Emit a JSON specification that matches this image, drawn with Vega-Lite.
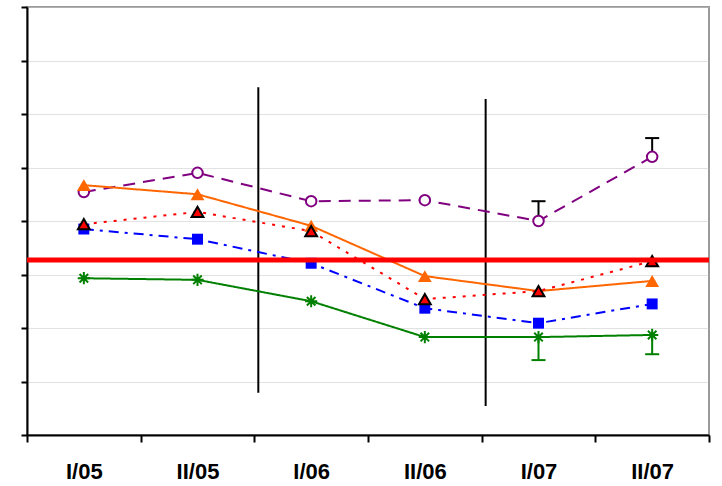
{
  "$schema": "https://vega.github.io/schema/vega-lite/v6.json",
  "width": 682,
  "height": 428,
  "autosize": {"type": "none"},
  "padding": {"left": 27, "top": 7, "right": 13, "bottom": 51},
  "background": "white",
  "config": {
    "view": {"stroke": "#9a9a9a", "strokeWidth": 2},
    "font": "Liberation Sans"
  },
  "datasets": {
    "pts": [
      {"period": "I/05", "series": "purple", "value": 4.54},
      {"period": "II/05", "series": "purple", "value": 4.9},
      {"period": "I/06", "series": "purple", "value": 4.37},
      {"period": "II/06", "series": "purple", "value": 4.39},
      {"period": "I/07", "series": "purple", "value": 4.0},
      {"period": "II/07", "series": "purple", "value": 5.2},
      {"period": "I/05", "series": "orange", "value": 4.67},
      {"period": "II/05", "series": "orange", "value": 4.5},
      {"period": "I/06", "series": "orange", "value": 3.91},
      {"period": "II/06", "series": "orange", "value": 2.97},
      {"period": "I/07", "series": "orange", "value": 2.69},
      {"period": "II/07", "series": "orange", "value": 2.88},
      {"period": "I/05", "series": "red", "value": 3.94},
      {"period": "II/05", "series": "red", "value": 4.17},
      {"period": "I/06", "series": "red", "value": 3.81},
      {"period": "II/06", "series": "red", "value": 2.54},
      {"period": "I/07", "series": "red", "value": 2.69},
      {"period": "II/07", "series": "red", "value": 3.25},
      {"period": "I/05", "series": "blue", "value": 3.85},
      {"period": "II/05", "series": "blue", "value": 3.66},
      {"period": "I/06", "series": "blue", "value": 3.21},
      {"period": "II/06", "series": "blue", "value": 2.37},
      {"period": "I/07", "series": "blue", "value": 2.09},
      {"period": "II/07", "series": "blue", "value": 2.45},
      {"period": "I/05", "series": "green", "value": 2.93},
      {"period": "II/05", "series": "green", "value": 2.9},
      {"period": "I/06", "series": "green", "value": 2.5},
      {"period": "II/06", "series": "green", "value": 1.83},
      {"period": "I/07", "series": "green", "value": 1.83},
      {"period": "II/07", "series": "green", "value": 1.87}
    ],
    "err": [
      {"period": "I/07", "series": "purple", "value": 4.0, "end": 4.37},
      {"period": "II/07", "series": "purple", "value": 5.2, "end": 5.55},
      {"period": "I/07", "series": "green", "value": 1.83, "end": 1.4},
      {"period": "II/07", "series": "green", "value": 1.87, "end": 1.51}
    ],
    "vlines": [
      {"period": "I/06", "y1": 6.5, "y2": 0.79},
      {"period": "I/07", "y1": 6.28, "y2": 0.54}
    ],
    "ref": [{"value": 3.27}]
  },
  "layer": [
    {
      "data": {"name": "vlines"},
      "mark": {"type": "rule", "color": "black", "strokeWidth": 2},
      "encoding": {
        "x": {"field": "period", "type": "ordinal", "bandPosition": 0.035,
              "scale": {"type": "band", "domain": ["I/05", "II/05", "I/06", "II/06", "I/07", "II/07"], "paddingInner": 0, "paddingOuter": 0},
              "axis": {"title": null, "labelFont": "Liberation Sans", "labelFontSize": 22, "labelFontWeight": "bold", "labelColor": "black", "labelPadding": 19, "domainColor": "black", "domainWidth": 2, "tickColor": "black", "tickWidth": 2, "tickSize": 7, "tickBand": "extent", "grid": false, "labelAngle": 0}},
        "y": {"field": "y1", "type": "quantitative",
              "scale": {"domain": [0, 8], "nice": false, "zero": false},
              "axis": {"title": null, "values": [0, 1, 2, 3, 4, 5, 6, 7, 8], "labels": false, "tickColor": "black", "tickWidth": 2, "tickSize": 6, "domainColor": "black", "domainWidth": 2, "grid": true, "gridColor": "#c4c4c4", "gridDash": [1, 1], "gridWidth": 1}},
        "y2": {"field": "y2"}
      }
    },
    {
      "data": {"name": "pts"},
      "mark": {"type": "line", "strokeWidth": 2},
      "encoding": {
        "x": {"field": "period", "type": "ordinal"},
        "y": {"field": "value", "type": "quantitative"},
        "detail": {"field": "series"},
        "color": {"field": "series", "type": "nominal", "legend": null,
                  "scale": {"domain": ["purple", "orange", "red", "blue", "green"], "range": ["#800080", "#FF6600", "#FF0000", "#0000FF", "#008000"]}},
        "strokeDash": {"field": "series", "type": "nominal", "legend": null,
                  "scale": {"domain": ["purple", "orange", "red", "blue", "green"], "range": [[12, 8], [1, 0], [3, 7], [10, 6, 3, 6], [1, 0]]}}
      }
    },
    {
      "data": {"name": "err"},
      "transform": [{"filter": "datum.series === 'purple'"}],
      "layer": [
        {"mark": {"type": "rule", "strokeWidth": 2, "color": "black"},
         "encoding": {"x": {"field": "period", "type": "ordinal"}, "y": {"field": "value", "type": "quantitative"}, "y2": {"field": "end"}}},
        {"mark": {"type": "tick", "size": 14, "thickness": 2, "orient": "horizontal", "color": "black", "opacity": 1},
         "encoding": {"x": {"field": "period", "type": "ordinal"}, "y": {"field": "end", "type": "quantitative"}}}
      ]
    },
    {
      "data": {"name": "err"},
      "transform": [{"filter": "datum.series === 'green'"}],
      "layer": [
        {"mark": {"type": "rule", "strokeWidth": 2, "color": "#008000"},
         "encoding": {"x": {"field": "period", "type": "ordinal"}, "y": {"field": "value", "type": "quantitative"}, "y2": {"field": "end"}}},
        {"mark": {"type": "tick", "size": 14, "thickness": 2, "orient": "horizontal", "color": "#008000", "opacity": 1},
         "encoding": {"x": {"field": "period", "type": "ordinal"}, "y": {"field": "end", "type": "quantitative"}}}
      ]
    },
    {
      "data": {"name": "pts"},
      "transform": [{"filter": "datum.series === 'purple'"}],
      "mark": {"type": "point", "shape": "circle", "size": 110, "filled": true, "fill": "white", "stroke": "#800080", "strokeWidth": 2, "opacity": 1},
      "encoding": {
        "x": {"field": "period", "type": "ordinal"},
        "y": {"field": "value", "type": "quantitative"}
      }
    },
    {
      "data": {"name": "pts"},
      "transform": [{"filter": "datum.series === 'orange'"}],
      "mark": {"type": "point", "shape": "triangle-up", "size": 190, "filled": true, "color": "#FF6600", "opacity": 1},
      "encoding": {
        "x": {"field": "period", "type": "ordinal"},
        "y": {"field": "value", "type": "quantitative"}
      }
    },
    {
      "data": {"name": "pts"},
      "transform": [{"filter": "datum.series === 'blue'"}],
      "mark": {"type": "point", "shape": "square", "size": 120, "filled": true, "color": "#0000FF", "opacity": 1},
      "encoding": {
        "x": {"field": "period", "type": "ordinal"},
        "y": {"field": "value", "type": "quantitative"}
      }
    },
    {
      "data": {"name": "pts"},
      "transform": [{"filter": "datum.series === 'green'"}],
      "mark": {"type": "point", "shape": "M-1,0L1,0M0,-1L0,1M-0.7,-0.7L0.7,0.7M-0.7,0.7L0.7,-0.7", "size": 150, "filled": false, "stroke": "#008000", "strokeWidth": 2, "opacity": 1},
      "encoding": {
        "x": {"field": "period", "type": "ordinal"},
        "y": {"field": "value", "type": "quantitative"}
      }
    },
    {
      "data": {"name": "pts"},
      "transform": [{"filter": "datum.series === 'red'"}],
      "mark": {"type": "point", "shape": "triangle-up", "size": 140, "filled": true, "fill": "#FF0000", "stroke": "black", "strokeWidth": 2, "opacity": 1},
      "encoding": {
        "x": {"field": "period", "type": "ordinal"},
        "y": {"field": "value", "type": "quantitative"}
      }
    },
    {
      "data": {"name": "ref"},
      "mark": {"type": "rule", "color": "#FF0000", "strokeWidth": 5},
      "encoding": {
        "y": {"field": "value", "type": "quantitative"}
      }
    }
  ]
}
